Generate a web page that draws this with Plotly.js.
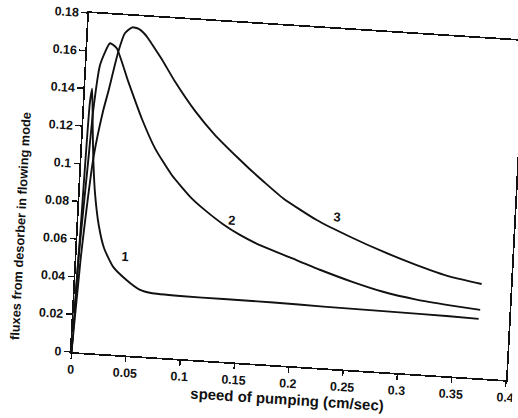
<!DOCTYPE html>
<html>
<head>
<meta charset="utf-8">
<script src="https://cdn.plot.ly/plotly-3.0.1.min.js"></script>
<style>
  html, body { margin: 0; padding: 0; background: #fff; overflow: hidden; }
  #chart {
    width: 518px; height: 418px;
    transform-origin: 0 0;
    transform: matrix(0.99656, 0.06422, -0.05162, 1, 15.29, -11.817);
  }
</style>
</head>
<body>
<div id="chart"></div>
<script>
// Curve 1
const x1 = [0, 0.0025, 0.005, 0.0065, 0.009, 0.011, 0.014, 0.019, 0.025, 0.034, 0.047, 0.06, 0.07, 0.097, 0.137, 0.183, 0.229, 0.29, 0.345, 0.372];
const y1 = [0, 0.065, 0.132, 0.140, 0.118, 0.102, 0.085, 0.068, 0.056, 0.0466, 0.040, 0.0352, 0.0339, 0.0333, 0.0332, 0.0331, 0.0326, 0.0322, 0.0318, 0.0314];
// Curve 2
const x2 = [0, 0.0019, 0.0041, 0.0063, 0.0085, 0.0126, 0.0207, 0.0271, 0.0393, 0.0533, 0.067, 0.0836, 0.103, 0.116, 0.133, 0.149, 0.165, 0.196, 0.224, 0.255, 0.283, 0.314, 0.345, 0.373];
const y2 = [0, 0.049, 0.0756, 0.102, 0.1288, 0.1529, 0.1647, 0.1623, 0.145, 0.1261, 0.1106, 0.0971, 0.0854, 0.0795, 0.0728, 0.0677, 0.0636, 0.0575, 0.052, 0.0466, 0.0425, 0.0395, 0.0376, 0.0362];
// Curve 3
const x3 = [0, 0.004, 0.0075, 0.011, 0.0177, 0.0214, 0.0287, 0.0339, 0.0404, 0.046, 0.051, 0.0557, 0.062, 0.069, 0.0823, 0.1019, 0.1214, 0.1439, 0.155, 0.1681, 0.1871, 0.2187, 0.2501, 0.2813, 0.3126, 0.3437, 0.3731];
const y3 = [0, 0.05, 0.08, 0.104, 0.129, 0.139, 0.1605, 0.1705, 0.1739, 0.1734, 0.1714, 0.1684, 0.1635, 0.158, 0.1465, 0.1318, 0.1197, 0.1082, 0.1028, 0.0968, 0.0885, 0.0782, 0.0705, 0.0637, 0.0578, 0.0528, 0.050];

// Curve labels
const labelText = ["1", "2", "3"];
const labelX = [0.0446, 0.141, 0.2375];
const labelY = [0.0523, 0.0753, 0.0807];

// Ticks
const xTickVals = [0, 0.05, 0.1, 0.15, 0.2, 0.25, 0.3, 0.35, 0.4];
const xTickText = ["0", "0.05", "0.1", "0.15", "0.2", "0.25", "0.3", "0.35", "0.4"];
const yTickVals = [0, 0.02, 0.04, 0.06, 0.08, 0.1, 0.12, 0.14, 0.16, 0.18];
const yTickText = ["0", "0.02", "0.04", "0.06", "0.08", "0.1", "0.12", "0.14", "0.16", "0.18"];

const xTitle = "speed of pumping (cm/sec)";
const yTitle = "fluxes from desorber in flowing mode";

const lineStyle = {color: "#111", width: 1.9, shape: "spline", smoothing: 0.5};
const traces = [
  {x: x1, y: y1, mode: "lines", line: lineStyle, name: "1"},
  {x: x2, y: y2, mode: "lines", line: lineStyle, name: "2"},
  {x: x3, y: y3, mode: "lines", line: lineStyle, name: "3"}
];

const fontFam = "Liberation Sans, Arial, sans-serif";
const annotations = labelText.map((t, i) => ({
  x: labelX[i], y: labelY[i], text: t, showarrow: false,
  font: {family: fontFam, size: 13, color: "#111", weight: "bold"}
}));
annotations.push({
  xref: "paper", yref: "paper", x: -0.131, y: 0.36, xanchor: "center", yanchor: "middle",
  text: yTitle, textangle: -90, showarrow: false,
  font: {family: fontFam, size: 12.8, color: "#111", weight: "bold"}
});

const layout = {
  width: 518, height: 418,
  margin: {l: 75, r: 7, t: 20, b: 59},
  paper_bgcolor: "#fff", plot_bgcolor: "#fff",
  showlegend: false,
  font: {family: fontFam, color: "#111"},
  xaxis: {
    range: [0, 0.4], tickvals: xTickVals, ticktext: xTickText,
    showline: true, mirror: true, linecolor: "#111", linewidth: 1.7,
    ticks: "outside", ticklen: 5, tickwidth: 1.4, tickcolor: "#111",
    showgrid: false, zeroline: false, ticklabeloverflow: "allow",
    tickfont: {family: fontFam, size: 12.5, weight: "bold", color: "#111"},
    title: {text: xTitle, standoff: 0,
            font: {family: fontFam, size: 15, weight: "bold", color: "#111"}}
  },
  yaxis: {
    range: [0, 0.18], tickvals: yTickVals, ticktext: yTickText,
    showline: true, mirror: true, linecolor: "#111", linewidth: 1.7,
    ticks: "outside", ticklen: 6, tickwidth: 1.4, tickcolor: "#111",
    showgrid: false, zeroline: false, ticklabeloverflow: "allow",
    tickfont: {family: fontFam, size: 12.5, weight: "bold", color: "#111"}
  },
  annotations: annotations
};

Plotly.newPlot("chart", traces, layout, {staticPlot: true, displayModeBar: false});
</script>
</body>
</html>
